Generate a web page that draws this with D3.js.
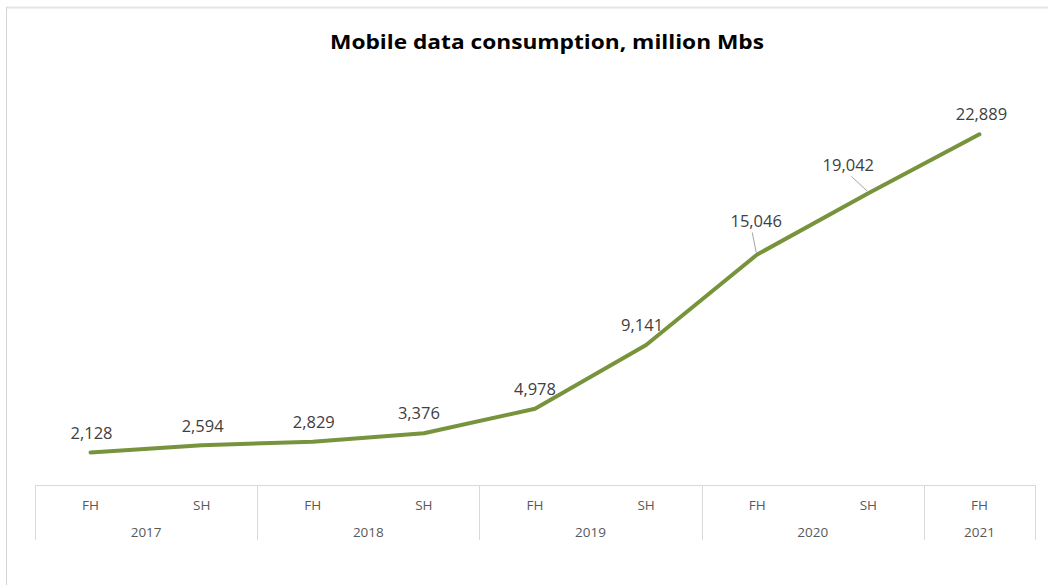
<!DOCTYPE html>
<html>
<head>
<meta charset="utf-8">
<script src="https://cdn.jsdelivr.net/npm/d3@7/dist/d3.min.js"></script>
<style>
  html, body { margin: 0; padding: 0; background: #fff; }
  svg { display: block; }
</style>
</head>
<body>
<svg id="chart" width="1048" height="585"></svg>
<script>
// Half-year periods and mobile data volume (million Mbs)
const halves = ["FH", "SH", "FH", "SH", "FH", "SH", "FH", "SH", "FH"];
const years = ["2017", "2017", "2018", "2018", "2019", "2019", "2020", "2020", "2021"];
const yearLabels = ["2017", "2018", "2019", "2020", "2021"];
const consumption = [2128, 2594, 2829, 3376, 4978, 9141, 15046, 19042, 22889];

// Label placement relative to each point (dx, baseline dy), plus leader-line start offsets
const labelDx = [1, 1, 1, -5, 0, -4, -1, -20, 2];
const labelDy = [-13, -13, -14, -14, -14, -14, -27, -22, -14];
const leaderDx = [null, null, null, null, null, null, -4, 3, null];

const W = 1048, H = 585;
const svg = d3.select("#chart");

// Outer chart frame (top and left edges)
svg.append("line").attr("x1", 6).attr("x2", W).attr("y1", 7.5).attr("y2", 7.5)
  .attr("stroke", "#e6e6e6").attr("stroke-width", 2);
svg.append("line").attr("x1", 6.5).attr("x2", 6.5).attr("y1", 7).attr("y2", H)
  .attr("stroke", "#d4d4d4").attr("stroke-width", 1);

// Title
svg.append("text")
  .attr("x", 547).attr("y", 49)
  .attr("text-anchor", "middle")
  .attr("font-family", "'Open Sans', 'Liberation Sans', sans-serif")
  .attr("font-weight", "bold")
  .attr("font-size", 19)
  .attr("textLength", 434)
  .attr("lengthAdjust", "spacingAndGlyphs")
  .attr("fill", "#000")
  .text("Mobile data consumption,  million Mbs");

const plotLeft = 35, plotRight = 1035, baseY = 485, topY = 102;

const x = d3.scaleBand()
  .domain(d3.range(consumption.length))
  .range([plotLeft, plotRight])
  .paddingInner(0).paddingOuter(0);

const y = d3.scaleLinear().domain([0, 25000]).range([baseY, topY]);

const cx = i => x(i) + x.bandwidth() / 2;

// Category axis: baseline plus multi-level grid of half-years and years
const axisColor = "#d9d9d9";
const axisFont = "'Open Sans', 'DejaVu Sans', sans-serif";
svg.append("line")
  .attr("x1", plotLeft).attr("x2", plotRight)
  .attr("y1", baseY + 0.5).attr("y2", baseY + 0.5)
  .attr("stroke", axisColor);

const xAxis = d3.axisBottom(x).tickSize(0).tickFormat(i => halves[i]);
const gx = svg.append("g").attr("transform", `translate(0,${baseY})`).call(xAxis);
gx.select(".domain").remove();
gx.selectAll("text")
  .attr("dy", 0).attr("y", 25)
  .attr("font-family", axisFont)
  .attr("font-size", 13.5)
  .attr("fill", "#595959");

// Year groups
const groups = yearLabels.map(yr => {
  const idx = d3.range(years.length).filter(i => years[i] === yr);
  return { year: yr, x0: x(idx[0]), x1: x(idx[idx.length - 1]) + x.bandwidth() };
});
const boundaries = [plotLeft].concat(groups.map(g => g.x1));
svg.selectAll("line.sep").data(boundaries).join("line")
  .attr("class", "sep")
  .attr("x1", d => Math.round(d) + 0.5).attr("x2", d => Math.round(d) + 0.5)
  .attr("y1", baseY).attr("y2", 540)
  .attr("stroke", axisColor);
svg.selectAll("text.year").data(groups).join("text")
  .attr("class", "year")
  .attr("x", g => (g.x0 + g.x1) / 2).attr("y", 537)
  .attr("text-anchor", "middle")
  .attr("font-family", axisFont)
  .attr("font-size", 13.5)
  .attr("fill", "#595959")
  .text(g => g.year);

// Data line
const line = d3.line().x((d, i) => cx(i)).y(d => y(d));
svg.append("path")
  .datum(consumption)
  .attr("d", line)
  .attr("fill", "none")
  .attr("stroke", "#77933C")
  .attr("stroke-width", 4)
  .attr("stroke-linejoin", "round")
  .attr("stroke-linecap", "round");

// Leader lines for labels moved away from their points
const pts = consumption.map((v, i) => ({ v, i }));
svg.selectAll("line.leader").data(pts.filter(d => leaderDx[d.i] !== null))
  .join("line")
  .attr("class", "leader")
  .attr("x1", d => cx(d.i) + labelDx[d.i] + leaderDx[d.i])
  .attr("y1", d => y(d.v) + labelDy[d.i] + 5)
  .attr("x2", d => cx(d.i) - 1)
  .attr("y2", d => y(d.v) - 2)
  .attr("stroke", "#a6a6a6")
  .attr("stroke-width", 1);

// Value labels
const fmt = d3.format(",");
svg.selectAll("text.val").data(consumption).join("text")
  .attr("class", "val")
  .attr("x", (d, i) => cx(i) + labelDx[i])
  .attr("y", (d, i) => y(d) + labelDy[i])
  .attr("text-anchor", "middle")
  .attr("font-family", axisFont)
  .attr("font-size", 16.5)
  .attr("fill", "#404040")
  .text(d => fmt(d));
</script>
</body>
</html>
